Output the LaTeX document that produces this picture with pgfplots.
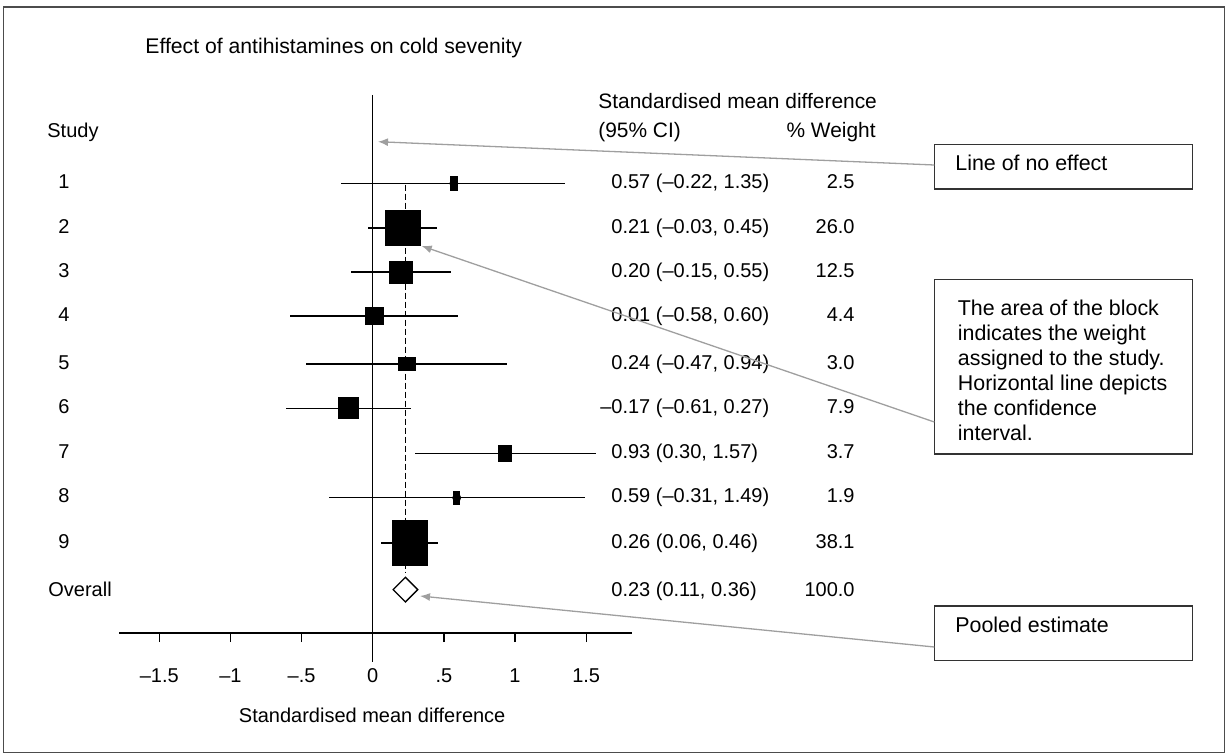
\documentclass[border=0pt]{standalone}
\usepackage{fontspec}
\setmainfont{Liberation Sans}
\usepackage{pgfplots}
\pgfplotsset{compat=1.18}
\usepackage{pgfplotstable}
\usetikzlibrary{arrows.meta}

\pgfdeclareplotmark{frect}{%
  \pgfpathrectanglecorners{\pgfpoint{-\mw pt}{-\mh pt}}{\pgfpoint{\mw pt}{\mh pt}}%
  \pgfusepathqfill}

% x = SMD, lo/hi = 95% CI, y = row position (px, negative), hw/hh = half size of block (pt)
\pgfplotstableread{
x     lo     hi    y       hw     hh
0.57  -0.22  1.35  -184.3  1.925  3.675
0.21  -0.03  0.45  -228.7  9.0    9.175
0.20  -0.15  0.55  -272.7  6.0    5.75
0.01  -0.58  0.60  -316.7  4.75   4.675
0.24  -0.47  0.94  -364.3  4.5    3.5
-0.17 -0.61  0.27  -408.7  5.25   5.5
0.93  0.30   1.57  -454.0  3.5    4.25
0.59  -0.31  1.49  -498.0  1.75   3.5
0.26  0.06   0.46  -543.3  9.0    11.425
}\studies

\newcommand\hdrfont{\fontsize{10.45}{12}\selectfont}
\newcommand\annfont{\fontsize{10.7}{12.5}\selectfont}

\begin{document}
\begin{tikzpicture}
\useasboundingbox (0pt,0pt) rectangle (613pt,-377pt);
\begin{axis}[
  at={(59.65pt,-316.5pt)}, anchor=south west,
  width=256.35pt, height=269pt, scale only axis,
  xmin=-1.781, xmax=1.822, ymin=-633, ymax=-96,
  axis x line=bottom, axis y line=none,
  x axis line style={-, line width=0.7pt, black},
  xtick={-1.5,-1,-0.5,0,0.5,1,1.5},
  xticklabels={–1.5,–1,–.5,0,.5,1,1.5},
  ytick=\empty,
  tick align=outside, major tick length=4.5pt,
  x tick style={line width=0.7pt, black},
  /pgf/number format/assume math mode=true,
  xticklabel style={anchor=base, yshift=-20.15pt, font=\fontsize{10}{12}\selectfont},
  xlabel={Standardised mean difference},
  x label style={at={(axis description cs:0.5,0)}, anchor=base, yshift=-44.65pt, xshift=-1.75pt},
  clip=false,
]
% line of no effect
\addplot[black, line width=0.7pt, mark=none] coordinates {(0,-96) (0,-662)};
% pooled estimate dashed line
\addplot[black, line width=0.7pt, mark=none, dash pattern=on 3pt off 1.5pt] coordinates {(0.23,-185.5) (0.23,-573)};
% confidence intervals
\addplot[only marks, mark=none,
  error bars/.cd, x dir=both, x explicit, error mark=none,
  error bar style={line width=0.7pt, black}]
  table[x=x, y=y, x error plus expr=\thisrow{hi}-\thisrow{x}, x error minus expr=\thisrow{x}-\thisrow{lo}] {\studies};
% weighted blocks
\addplot[scatter, only marks, mark=frect,
  visualization depends on={\thisrow{hw} \as \mw},
  visualization depends on={\thisrow{hh} \as \mh},
  scatter/use mapped color={draw=black, fill=black}]
  table[x=x, y=y] {\studies};
% overall diamond
\addplot[only marks, mark=square, mark size=4.35pt,
  mark options={rotate=45, fill=white, draw=black, line width=0.65pt}]
  coordinates {(0.23,-589.7)};
\end{axis}

\begin{scope}[x=0.5pt, y=-0.5pt]
% outer frame
\draw[line width=0.8pt, black!70] (3.3,7.3) rectangle (1224.5,752.5);
% title and headers
\node[anchor=base west, inner sep=0, font=\fontsize{10.6}{12}\selectfont] at (145,54) {Effect of antihistamines on cold sevenity};
\node[anchor=base west, inner sep=0] at (47,138) {Study};
\node[anchor=base west, inner sep=0, font=\hdrfont] at (598,109) {Standardised mean difference};
\node[anchor=base west, inner sep=0, font=\hdrfont] at (598,138) {(95\% CI)};
\node[anchor=base east, inner sep=0, font=\hdrfont] at (876,138) {\% Weight};
% study labels
\foreach \n/\yy in {1/184.3,2/228.7,3/272.7,4/316.7,5/364.3,6/408.7,7/454.0,8/498.0,9/543.3}{
  \node[anchor=base, inner sep=0] at (64,\yy+4.7) {\n};
}
\node[anchor=base west, inner sep=0] at (48,596.5) {Overall};
% estimates
\foreach \t/\w/\yy in {0.57 (–0.22{,} 1.35)/2.5/184.3, 0.21 (–0.03{,} 0.45)/26.0/228.7,
  0.20 (–0.15{,} 0.55)/12.5/272.7, 0.01 (–0.58{,} 0.60)/4.4/316.7,
  0.24 (–0.47{,} 0.94)/3.0/364.3, \llap{–}0.17 (–0.61{,} 0.27)/7.9/408.7,
  0.93 (0.30{,} 1.57)/3.7/454.0, 0.59 (–0.31{,} 1.49)/1.9/498.0,
  0.26 (0.06{,} 0.46)/38.1/543.3, 0.23 (0.11{,} 0.36)/100.0/591.8}{
  \node[anchor=base west, inner sep=0] at (611,\yy+4.7) {\t};
  \node[anchor=base east, inner sep=0] at (855,\yy+4.7) {\w};
}
% annotation boxes
\draw[line width=0.75pt, black!80] (934.3,144.3) rectangle (1192.7,189);
\node[anchor=base west, inner sep=0, font=\annfont] at (955,170.5) {Line of no effect};
\draw[line width=0.75pt, black!80] (934.3,279.3) rectangle (1192.7,454);
\foreach \t [count=\i from 0] in {The area of the block, indicates the weight, assigned to the study., Horizontal line depicts, the confidence, interval.}{
  \node[anchor=base west, inner sep=0, font=\annfont] at (957.5,315+25*\i) {\t};
}
\draw[line width=0.75pt, black!80] (934.3,606) rectangle (1192.7,660.7);
\node[anchor=base west, inner sep=0, font=\annfont] at (955,632) {Pooled estimate};
% arrows
\draw[gray!75, line width=0.65pt, -{Latex[length=5pt,width=4pt]}] (934.3,165) -- (378,141.7);
\draw[gray!75, line width=0.65pt, -{Latex[length=5pt,width=4pt]}] (934.3,422) -- (421.7,246);
\draw[gray!75, line width=0.65pt, -{Latex[length=5pt,width=4pt]}] (934.3,647) -- (420,596);
\end{scope}
\end{tikzpicture}
\end{document}
